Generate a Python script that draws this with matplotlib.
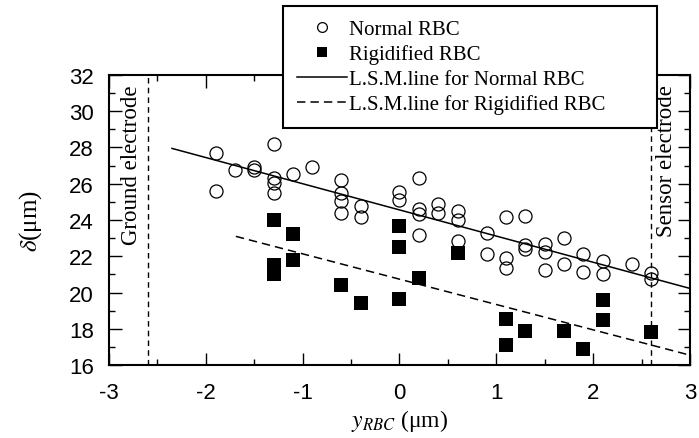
import matplotlib
matplotlib.use("Agg")
import matplotlib.pyplot as plt
from matplotlib.ticker import MultipleLocator

plt.rcParams['font.family'] = ['Liberation Sans', 'DejaVu Sans']
plt.rcParams['mathtext.fontset'] = 'stix'
plt.rcParams['axes.unicode_minus'] = False

# normal RBC: position y_RBC (um) and delta (um)
normal_x = [-1.9, -1.9, -1.7, -1.5, -1.5, -1.3, -1.3, -1.3, -1.3, -1.1, -0.9,
            -0.6, -0.6, -0.6, -0.6, -0.4, -0.4, 0.0, 0.0, 0.2, 0.2, 0.2, 0.2,
            0.4, 0.4, 0.6, 0.6, 0.6, 0.9, 0.9, 1.1, 1.1, 1.1, 1.3, 1.3, 1.3,
            1.5, 1.5, 1.5, 1.7, 1.7, 1.9, 1.9, 2.1, 2.1, 2.4, 2.6, 2.6]
normal_y = [27.7, 25.6, 26.75, 26.95, 26.75, 28.2, 26.3, 26.05, 25.5, 26.55, 26.95,
            26.2, 25.5, 25.05, 24.4, 24.75, 24.15, 25.55, 25.1, 26.3, 24.6, 24.35, 23.15,
            24.9, 24.4, 24.5, 24.0, 22.85, 23.3, 22.15, 24.15, 21.9, 21.35, 24.25, 22.6, 22.4,
            22.7, 22.25, 21.25, 23.0, 21.55, 22.1, 21.15, 21.75, 21.0, 21.55, 21.1, 20.75]

# rigidified RBC
rigid_x = [-1.3, -1.3, -1.3, -1.1, -1.1, -0.6, -0.4, 0.0, 0.0, 0.0,
           0.2, 0.6, 1.1, 1.1, 1.3, 1.7, 1.9, 2.1, 2.1, 2.6]
rigid_y = [24.0, 21.5, 21.0, 23.25, 21.8, 20.4, 19.4, 23.65, 22.5, 19.65,
           20.8, 22.2, 18.55, 17.1, 17.9, 17.9, 16.9, 19.6, 18.5, 17.8]

# least squares lines (end points)
lsm_normal_x = [-2.35, 3.0]
lsm_normal_y = [27.95, 20.23]
lsm_rigid_x = [-1.69, 3.0]
lsm_rigid_y = [23.1, 16.55]

# electrode positions
ground_x = -2.6
sensor_x = 2.6

fig = plt.figure(figsize=(6.99, 4.39), dpi=100)
ax = fig.add_axes([0.156, 0.166, 0.831, 0.661])

ax.axvline(ground_x, color='k', lw=1.0, dashes=(4, 3))
ax.axvline(sensor_x, color='k', lw=1.0, dashes=(4, 3))

ax.plot(normal_x, normal_y, 'o', ms=9.4, mfc='none', mec='k', mew=0.9,
        label='Normal RBC')
ax.plot(rigid_x, rigid_y, 's', ms=9.4, mfc='k', mec='k', mew=0,
        label='Rigidified RBC')
ax.plot(lsm_normal_x, lsm_normal_y, '-', color='k', lw=1.1,
        label='L.S.M.line for Normal RBC')
ax.plot(lsm_rigid_x, lsm_rigid_y, color='k', lw=1.1, dashes=(5.5, 3.3),
        label='L.S.M.line for Rigidified RBC')

ax.text(-2.77, 31.5, 'Ground electrode', rotation=90, ha='center', va='top',
        family='Liberation Serif', fontsize=16.5)
ax.text(2.76, 31.5, 'Sensor electrode', rotation=90, ha='center', va='top',
        family='Liberation Serif', fontsize=16.5)

ax.set_xlim(-3, 3)
ax.set_ylim(16, 32)
ax.xaxis.set_major_locator(MultipleLocator(1))
ax.xaxis.set_minor_locator(MultipleLocator(0.5))
ax.yaxis.set_major_locator(MultipleLocator(2))
ax.yaxis.set_minor_locator(MultipleLocator(1))
ax.tick_params(which='both', direction='in', top=True, right=True, width=1.0)
ax.tick_params(which='major', length=9, labelsize=16)
ax.tick_params(which='minor', length=4.5)
ax.tick_params(axis='x', which='major', pad=12)
ax.tick_params(axis='y', which='major', pad=11)
for s in ax.spines.values():
    s.set_linewidth(1.5)

ax.set_xlabel(r'$y_{RBC}$ (μm)', family='Liberation Serif', fontsize=17, labelpad=3)
ax.set_ylabel(r'$\delta$(μm)', family='Liberation Serif', fontsize=18, labelpad=18)

leg = fig.legend(loc='upper left', bbox_to_anchor=(0.405, 0.711, 0.535, 0.273),
                 mode='expand', borderaxespad=0, fancybox=False, framealpha=1,
                 edgecolor='k', prop={'family': 'Liberation Serif', 'size': 15},
                 handlelength=2.4, handletextpad=0.1, labelspacing=0.25,
                 markerscale=0.75, borderpad=0.66)
leg.get_frame().set_linewidth(1.5)

fig.savefig('out.png', dpi=100)
